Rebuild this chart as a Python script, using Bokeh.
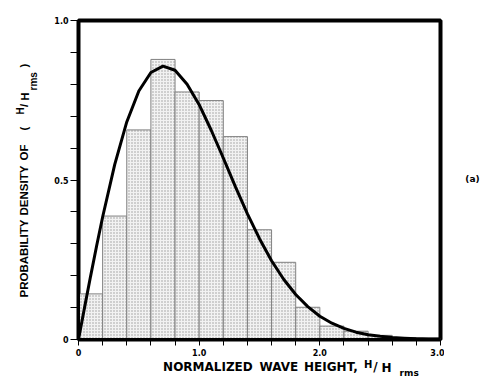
import math
from bokeh.plotting import figure
from bokeh.layouts import row, column
from bokeh.models import FixedTicker, ColumnDataSource, Range1d, Label
from bokeh.embed import file_html
from bokeh.resources import INLINE

# ---- data ----
bin_left = [0.0, 0.2, 0.4, 0.6, 0.8, 1.0, 1.2, 1.4, 1.6, 1.8, 2.0, 2.2, 2.4, 2.6, 2.8]
bin_right = [0.2, 0.4, 0.6, 0.8, 1.0, 1.2, 1.4, 1.6, 1.8, 2.0, 2.2, 2.4, 2.6, 2.8, 3.0]
density = [0.143, 0.387, 0.657, 0.878, 0.776, 0.749, 0.636, 0.344, 0.242, 0.101,
           0.042, 0.026, 0.013, 0.006, 0.002]

curve_x = [0.0, 0.05, 0.1, 0.15, 0.2, 0.3, 0.4, 0.5, 0.6, 0.7, 0.8, 0.9, 1.0, 1.1, 1.2,
           1.3, 1.4, 1.5, 1.6, 1.7, 1.8, 1.9, 2.0, 2.1, 2.2, 2.3, 2.4, 2.5, 2.6,
           2.7, 2.8, 2.9, 3.0]
curve_y = [0.0, 0.100, 0.198, 0.293, 0.384, 0.548, 0.682, 0.779, 0.837, 0.857, 0.844,
           0.800, 0.736, 0.656, 0.569, 0.479, 0.394, 0.316, 0.247, 0.189, 0.141,
           0.103, 0.073, 0.051, 0.035, 0.023, 0.015, 0.010, 0.006, 0.004, 0.002,
           0.001, 0.0007]

x_major = [0.0, 1.0, 2.0, 3.0]
x_major_labels = ["0", "1.0", "2.0", "3.0"]
x_minor = [0.2, 0.4, 0.6, 0.8, 1.2, 1.4, 1.6, 1.8, 2.2, 2.4, 2.6, 2.8]
y_major = [0.0, 0.5, 1.0]
y_major_labels = ["0", "0.5", "1.0"]
y_minor = [0.1, 0.2, 0.3, 0.4, 0.6, 0.7, 0.8, 0.9]

x_title_words = ["NORMALIZED", "WAVE", "HEIGHT,"]
y_title_words = ["PROBABILITY", "DENSITY", "OF", "("]
ratio_parts = ["H", "/", "H"]
subscript = "rms"
closing = ")"
panel_tag = "(a)"

TICK_FONT = "DejaVu Sans"
XT_FONT = "DejaVu Sans"
YT_FONT = "Liberation Sans"

# ---------------- main plot ----------------
p = figure(width=398, height=359, output_backend="svg", toolbar_location=None,
           x_range=Range1d(0, 3.0), y_range=Range1d(0, 1.0),
           min_border_left=32, min_border_right=4, min_border_top=20,
           min_border_bottom=20)
p.background_fill_color = "white"
p.border_fill_color = "white"
p.grid.visible = False
p.outline_line_color = "black"
p.outline_line_width = 4

src = ColumnDataSource(dict(left=bin_left, right=bin_right, top=density))
p.quad(left="left", right="right", top="top", bottom=0, source=src,
       fill_color="#f2f2f2", line_color="#808080", line_width=1,
       hatch_pattern="dot", hatch_color="#9a9a9a", hatch_scale=3, hatch_weight=1)

p.line(curve_x, curve_y, line_color="black", line_width=3)

for ax in (p.xaxis[0], p.yaxis[0]):
    ax.axis_line_color = "black"
    ax.axis_line_width = 3
    ax.major_tick_line_color = "black"
    ax.minor_tick_line_color = "black"
    ax.major_tick_line_width = 1
    ax.minor_tick_line_width = 1
    ax.major_tick_in = 0
    ax.minor_tick_in = 0
    ax.major_label_text_font = TICK_FONT
    ax.major_label_text_font_style = "bold"
    ax.major_label_text_font_size = "8px"
    ax.major_label_text_color = "black"

p.xaxis.ticker = FixedTicker(ticks=x_major, minor_ticks=x_minor)
p.xaxis.major_label_overrides = {t: l for t, l in zip(x_major, x_major_labels)}
p.xaxis.major_tick_out = 6
p.xaxis.minor_tick_out = 6
p.xaxis.major_label_standoff = 3

p.yaxis.ticker = FixedTicker(ticks=y_major, minor_ticks=y_minor)
p.yaxis.major_label_overrides = {t: l for t, l in zip(y_major, y_major_labels)}
p.yaxis.major_tick_out = 8
p.yaxis.minor_tick_out = 8
p.yaxis.major_label_standoff = 2


def strip(w, h, xr, yr):
    f = figure(width=w, height=h, output_backend="svg", toolbar_location=None,
               x_range=Range1d(*xr), y_range=Range1d(*yr),
               x_axis_type=None, y_axis_type=None,
               min_border_left=0, min_border_right=0, min_border_top=0,
               min_border_bottom=0)
    f.grid.visible = False
    f.outline_line_color = None
    f.background_fill_color = "white"
    f.border_fill_color = "white"
    return f


def put(f, text, x, y, size, font, angle=0.0, align="left"):
    f.add_layout(Label(x=x, y=y, text=text, angle=angle, text_align=align,
                       text_baseline="middle", text_font=font,
                       text_font_style="bold", text_font_size=size,
                       text_color="black"))


# ---------------- left strip: y-axis title (page pixel coordinates) ----------------
L = strip(46, 376, (0, 46), (376, 0))
rot = math.pi / 2
for word, y0 in zip(y_title_words, [297.0, 215.0, 160.0, 130.0]):
    put(L, word, 23, y0, "11.5px", YT_FONT, angle=rot)
put(L, ratio_parts[0], 19.5, 114.0, "10px", YT_FONT, angle=rot)
put(L, ratio_parts[1], 23.5, 106.5, "11.5px", YT_FONT, angle=rot)
put(L, ratio_parts[2], 24.5, 100.0, "11px", YT_FONT, angle=rot)
put(L, subscript, 32.5, 90.0, "10px", YT_FONT, angle=rot)
put(L, closing, 23, 67.0, "11.5px", YT_FONT, angle=rot)

# ---------------- bottom strip: x-axis title ----------------
B = strip(398, 17, (46, 444), (376, 359))
for word, x0 in zip(x_title_words, [139.0, 245.0, 294.0]):
    put(B, word, x0, 366.8, "12px", XT_FONT)
put(B, ratio_parts[0], 360.0, 363.5, "10px", XT_FONT)
put(B, ratio_parts[1], 370.0, 366.0, "12px", XT_FONT)
put(B, ratio_parts[2], 379.0, 367.5, "12px", XT_FONT)
put(B, subscript, 399.0, 372.0, "9px", XT_FONT)

# ---------------- right strip: panel tag ----------------
Q = strip(43, 376, (444, 487), (376, 0))
put(Q, panel_tag, 472.0, 178.5, "9px", XT_FONT, align="center")

layout = row(L, column(p, B, spacing=0), Q, spacing=0)
open("out.html", "w").write(file_html(layout, INLINE))
